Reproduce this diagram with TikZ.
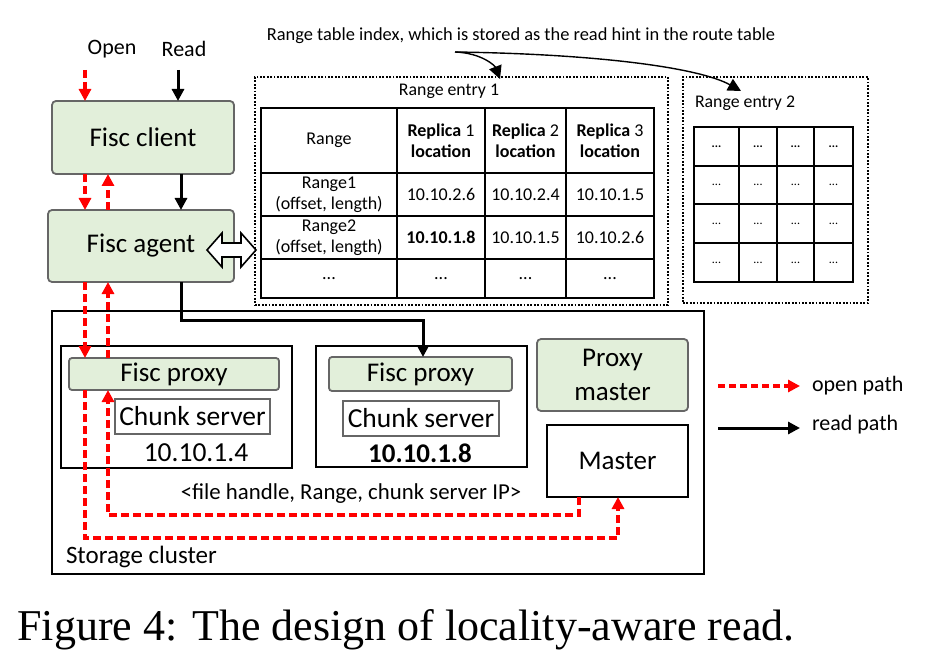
\documentclass[tikz,border=0pt]{standalone}
\usepackage{fontspec}
\setmainfont{Carlito}
\newfontfamily\capfont{Liberation Serif}
\usetikzlibrary{arrows.meta}
\definecolor{lgreen}{HTML}{E2EFDA}
\definecolor{bgray}{HTML}{666666}
\definecolor{ored}{HTML}{FF0000}
\newcommand\fsz[2]{\fontsize{#1}{#2}\selectfont}
\begin{document}
\begin{tikzpicture}[x=1pt,y=-1pt,
  gbox/.style={draw=bgray, fill=lgreen, rounded corners=4pt, line width=1.8pt, anchor=north west, inner sep=0pt, outer sep=0pt, font=\fsz{27}{34}, align=center},
  wbox/.style={draw=bgray, fill=white, line width=1.6pt, anchor=north west, inner sep=0pt, outer sep=0pt, font=\fsz{27.5}{32}},
  hbox/.style={draw=black, line width=2pt, anchor=north west, inner sep=0pt, outer sep=0pt},
  dotbox/.style={draw=black, line width=1.8pt, dash pattern=on 1.8pt off 1.6pt, anchor=north west, inner sep=0pt, outer sep=0pt},
  openp/.style={draw=ored, line width=3.2pt, dash pattern=on 8pt off 4pt, -{Triangle[length=12pt,width=12pt]}},
  readp/.style={draw=black, line width=3pt, -{Triangle[length=12pt,width=12pt]}},
  annarr/.style={draw=black, line width=1.4pt, -{Triangle[length=13pt,width=13pt]}},
  cell/.style={draw=black, line width=2pt, inner sep=0pt, outer sep=0pt, align=center, font=\fsz{18}{21}},
  lbl/.style={inner sep=0pt, outer sep=0pt}
]
\path[use as bounding box, fill=white] (0,0) rectangle (926,663);

% top labels
\node[lbl, font=\fsz{22}{26}] (openlbl) at (112,49) {Open};
\node[lbl, font=\fsz{22}{26}] (readlbl) at (184,49) {Read};

% client / agent
\node[gbox, minimum width=182pt, minimum height=73pt] (client) at (52,101) {Fisc client};
\node[gbox, minimum width=186pt, minimum height=72pt] (agent) at (48,210) {Fisc agent};

% storage cluster
\node[hbox, minimum width=652pt, minimum height=263pt] (cluster) at (52,311) {};
\node[lbl, anchor=base west, font=\fsz{25}{28}] (clusterlbl) at (66,563) {Storage cluster};

\node[hbox, minimum width=231pt, minimum height=122pt] (host1) at (61,346) {};
\node[gbox, rounded corners=3pt, minimum width=210pt, minimum height=32pt] (proxy1) at (69,358) {Fisc proxy};
\node[wbox, minimum width=155pt, minimum height=35pt] (cs1) at (115,399) {Chunk server};
\node[lbl, font=\fsz{27.5}{30}] (ip1) at (196,453) {10.10.1.4};

\node[hbox, minimum width=211pt, minimum height=121pt] (host2) at (316,346) {};
\node[gbox, rounded corners=3pt, minimum width=183pt, minimum height=34pt] (proxy2) at (329,357) {Fisc proxy};
\node[wbox, minimum width=156pt, minimum height=35pt] (cs2) at (343,401) {Chunk server};
\node[lbl, font=\fsz{27}{30}\bfseries] (ip2) at (420,453) {10.10.1.8};

\node[gbox, minimum width=151pt, minimum height=72pt] (pmaster) at (537,339) {Proxy\\master};
\node[hbox, fill=white, minimum width=141pt, minimum height=72pt, font=\fsz{27}{30}] (master) at (547,425) {Master};

\node[lbl, font=\fsz{22.8}{26}] (fh) at (351,494) {<file handle, Range, chunk server IP>};

% legend
\coordinate (lo1) at (718,386); \coordinate (lo2) at (800,386);
\coordinate (lr1) at (718,428); \coordinate (lr2) at (800,428);
\draw[openp, dash pattern=on 7pt off 4pt] (lo1) -- (lo2);
\draw[readp] (lr1) -- (lr2);
\node[lbl, anchor=west, font=\fsz{22}{26}] (openleg) at (812,386) {open path};
\node[lbl, anchor=west, font=\fsz{22}{26}] (readleg) at (812,425) {read path};

% table entry 1
\node[dotbox, minimum width=413pt, minimum height=228pt] (entry1) at (255,77) {};
\node[lbl, font=\fsz{17.8}{20}] (e1lbl) at (449,91) {Range entry 1};
\node[cell, minimum width=136pt, minimum height=65pt] (t01) at (329,140.5) {Range};
\node[cell, minimum width=88pt, minimum height=65pt] (t02) at (441,140.5) {\textbf{Replica} 1\\\textbf{location}};
\node[cell, minimum width=81pt, minimum height=65pt] (t03) at (525.5,140.5) {\textbf{Replica} 2\\\textbf{location}};
\node[cell, minimum width=88pt, minimum height=65pt] (t04) at (610,140.5) {\textbf{Replica} 3\\\textbf{location}};
\node[cell, minimum width=136pt, minimum height=43pt] (t11) at (329,194.5) {Range1\\(offset, length)};
\node[cell, minimum width=88pt, minimum height=43pt] (t12) at (441,194.5) {10.10.2.6};
\node[cell, minimum width=81pt, minimum height=43pt] (t13) at (525.5,194.5) {10.10.2.4};
\node[cell, minimum width=88pt, minimum height=43pt] (t14) at (610,194.5) {10.10.1.5};
\node[cell, minimum width=136pt, minimum height=43pt] (t21) at (329,237.5) {Range2\\(offset, length)};
\node[cell, minimum width=88pt, minimum height=43pt] (t22) at (441,237.5) {\textbf{10.10.1.8}};
\node[cell, minimum width=81pt, minimum height=43pt] (t23) at (525.5,237.5) {10.10.1.5};
\node[cell, minimum width=88pt, minimum height=43pt] (t24) at (610,237.5) {10.10.2.6};
\node[cell, minimum width=136pt, minimum height=39pt] (t31) at (329,278.5) {...};
\node[cell, minimum width=88pt, minimum height=39pt] (t32) at (441,278.5) {...};
\node[cell, minimum width=81pt, minimum height=39pt] (t33) at (525.5,278.5) {...};
\node[cell, minimum width=88pt, minimum height=39pt] (t34) at (610,278.5) {...};

% table entry 2
\node[dotbox, minimum width=185pt, minimum height=226pt] (entry2) at (683,77) {};
\node[lbl, anchor=west, font=\fsz{17.8}{20}] (e2lbl) at (695,103) {Range entry 2};
\foreach \cx/\w [count=\i] in {716.5/45,758/38,795.5/37,833.5/39}
  \foreach \cy/\h [count=\j] in {146.5/39,185/38,223.5/39,262.5/39}
    \node[cell, minimum width=\w pt, minimum height=\h pt, font=\fsz{12}{14}] (g\i\j) at (\cx,\cy) {\ifnum\j=1 \textbf{...}\else ...\fi};

% annotation
\node[lbl, font=\fsz{18.4}{22}] (ann) at (521,36) {Range table index, which is stored as the read hint in the route table};
\coordinate (a0) at (455,52);
\coordinate (a1) at (500,79);
\coordinate (a2) at (741,91);
\draw[annarr] (a0) .. controls (482,53) and (495,66) .. (a1);
\draw[annarr] (a0) .. controls (600,54) and (700,68) .. (a2);

% double arrow agent <-> table
\draw[fill=white, line width=1.6pt, line join=miter] (207,250) -- (222,233) -- (222,243) -- (241,243) -- (241,233) -- (256,250) -- (241,267) -- (241,257) -- (222,257) -- (222,267) -- cycle;

% x positions
\coordinate (xo1) at (85,0);
\coordinate (xo2) at (108,0);
\coordinate (xr) at (181,0);
\coordinate (xin) at (178,0);
\coordinate (xr2) at (423,0);
\coordinate (xm1) at (579,0);
\coordinate (xm2) at (618,0);
\coordinate (yin) at (0,70);
\coordinate (yr) at (0,320);
\coordinate (yb1) at (0,538);
\coordinate (yb2) at (0,515);

% open/read inputs
\draw[openp] (xo1 |- yin) -- (xo1 |- client.north);
\draw[readp] (xin |- yin) -- (xin |- client.north);

% client <-> agent
\draw[openp] (xo1 |- client.south) -- (xo1 |- agent.north);
\draw[openp] (xo2 |- agent.north) -- (xo2 |- client.south);
\draw[readp] (xr |- client.south) -- (xr |- agent.north);

% agent <-> proxy1
\draw[openp] (xo1 |- agent.south) -- (xo1 |- proxy1.north);
\draw[openp] (xo2 |- proxy1.north) -- (xo2 |- agent.south);

% proxy1 -> master, master -> proxy1
\draw[openp] (xo1 |- proxy1.south) -- (xo1 |- yb1) -- (xm2 |- yb1) -- (xm2 |- master.south);
\draw[openp] (xm1 |- master.south) -- (xm1 |- yb2) -- (xo2 |- yb2) -- (xo2 |- proxy1.south);

% read path agent -> proxy2
\draw[readp] (xr |- agent.south) -- (xr |- yr) -- (xr2 |- yr) -- (xr2 |- proxy2.north);

% caption
\node[lbl, anchor=base, font=\capfont\fsz{44}{50}] (caption) at (406,640) {Figure 4: The design of locality-aware read.};
\end{tikzpicture}
\end{document}
